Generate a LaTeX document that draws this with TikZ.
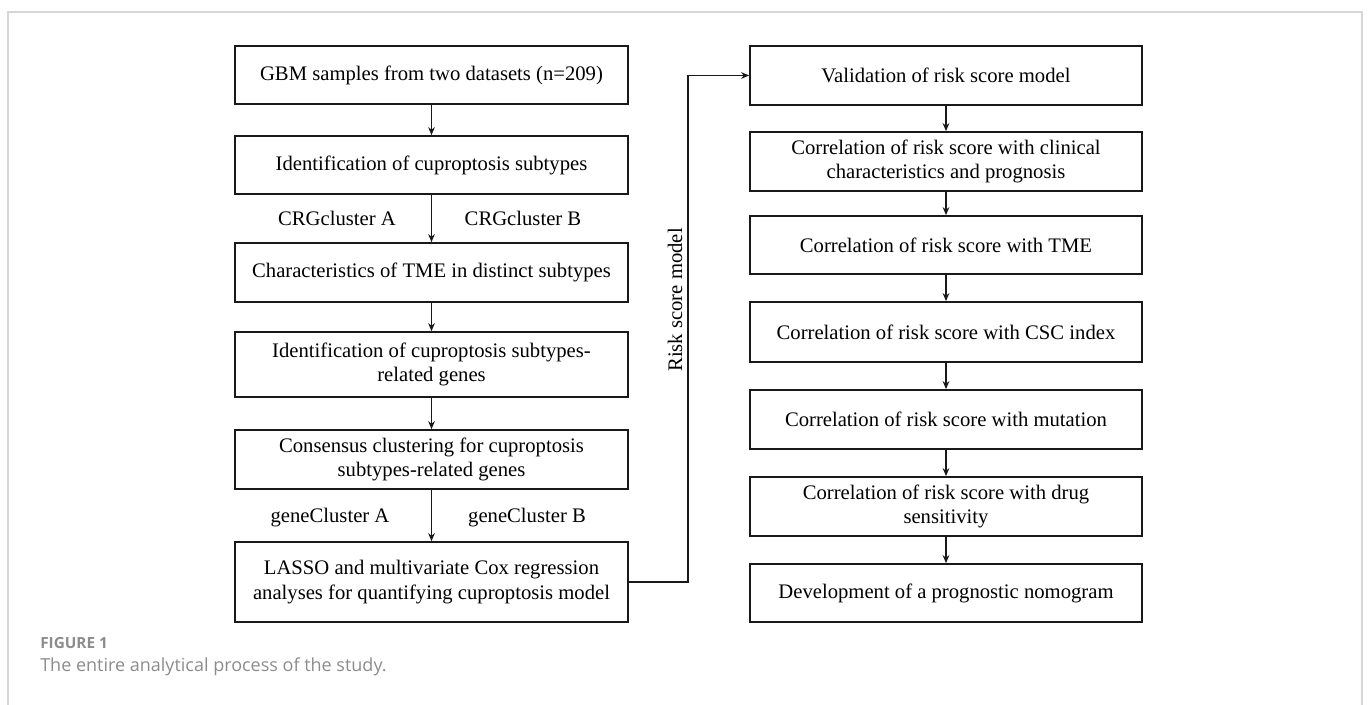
\documentclass[tikz,border=0pt]{standalone}
\usepackage{fontspec}
\setmainfont{Liberation Serif}
\newfontfamily\capfont{Open Sans}
\usetikzlibrary{arrows.meta}
\definecolor{framegray}{HTML}{D6D6D6}
\definecolor{capgray}{HTML}{8C8C8C}
\begin{document}
\begin{tikzpicture}[x=0.75pt,y=-0.75pt,
  box/.style={draw=black!90, line width=1.3pt, align=center, inner sep=0pt,
    font=\fontsize{15.5}{18.5}\selectfont},
  lbox/.style={box, minimum width=393*0.75pt},
  rbox/.style={box, minimum width=392*0.75pt},
  arr/.style={draw=black!90, line width=1.1pt, -{Stealth[length=6pt,width=5pt]}},
  lab/.style={font=\fontsize{15.5}{18.5}\selectfont, inner sep=0pt}
]
\useasboundingbox (0,0) rectangle (1372,705);
\draw[framegray, line width=0.9pt] (8,705) -- (8,12) -- (1362,12) -- (1362,705);

% left column
\node[lbox, minimum height=58*0.75pt] (L1) at (431.5,75) {GBM samples from two datasets (n=209)};
\node[lbox, minimum height=58*0.75pt] (L2) at (431.5,165) {Identification of cuproptosis subtypes};
\node[lbox, minimum height=59*0.75pt] (L3) at (431.5,272.5) {Characteristics of TME in distinct subtypes};
\node[lbox, minimum height=65*0.75pt] (L4) at (431.5,364.5) {Identification of cuproptosis subtypes-\\related genes};
\node[lbox, minimum height=59*0.75pt] (L5) at (431.5,459.5) {Consensus clustering for cuproptosis\\subtypes-related genes};
\node[lbox, minimum height=80*0.75pt] (L6) at (431.5,582) {LASSO and multivariate Cox regression\\analyses for quantifying cuproptosis model};

% right column
\node[rbox, minimum height=59*0.75pt] (R1) at (946,75.5) {Validation of risk score model};
\node[rbox, minimum height=59*0.75pt] (R2) at (946,161.5) {Correlation of risk score with clinical\\characteristics and prognosis};
\node[rbox, minimum height=58*0.75pt] (R3) at (946,245) {Correlation of risk score with TME};
\node[rbox, minimum height=60*0.75pt] (R4) at (946,332) {Correlation of risk score with CSC index};
\node[rbox, minimum height=59*0.75pt] (R5) at (946,419.5) {Correlation of risk score with mutation};
\node[rbox, minimum height=59*0.75pt] (R6) at (946,506.5) {Correlation of risk score with drug\\sensitivity};
\node[rbox, minimum height=58*0.75pt] (R7) at (946,593) {Development of a prognostic nomogram};

% connectors
\draw[arr] (L1) -- (L2);
\draw[arr] (L2) -- (L3);
\draw[arr] (L3) -- (L4);
\draw[arr] (L4) -- (L5);
\draw[arr] (L5) -- (L6);
\draw[arr] (R1) -- (R2);
\draw[arr] (R2) -- (R3);
\draw[arr] (R3) -- (R4);
\draw[arr] (R4) -- (R5);
\draw[arr] (R5) -- (R6);
\draw[arr] (R6) -- (R7);

\coordinate (turn) at (688,0);
\draw[arr] (L6.east) -- (L6.east -| turn) -- (turn |- R1.west) -- (R1.west);

% labels
\node[lab] (ca) at (337,218) {CRGcluster A};
\node[lab] (cb) at (523,218) {CRGcluster B};
\node[lab] (ga) at (330,518) {geneCluster A};
\node[lab] (gb) at (527,518) {geneCluster B};
\node[lab, rotate=90] (rsm) at (675,300) {Risk score model};

% caption
\node[anchor=base west, inner sep=0pt, text=capgray, font=\capfont\bfseries\fontsize{11.5}{13}\selectfont] (fig) at (40,649) {FIGURE 1};
\node[anchor=base west, inner sep=0pt, text=capgray, font=\capfont\fontsize{13.5}{16}\selectfont] (cap) at (40,672) {The entire analytical process of the study.};
\end{tikzpicture}
\end{document}
